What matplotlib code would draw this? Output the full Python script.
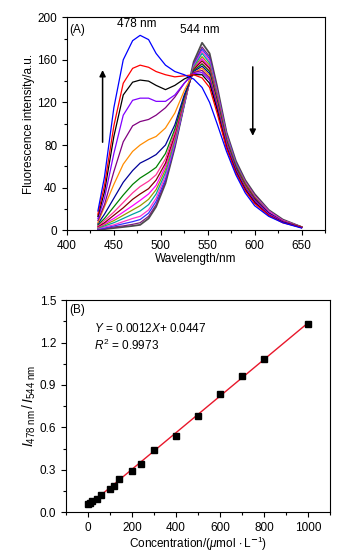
import numpy as np
import matplotlib
matplotlib.use('Agg')
import matplotlib.pyplot as plt
from matplotlib.ticker import MultipleLocator, FormatStrFormatter

plt.rcParams['font.family'] = ['Liberation Sans', 'DejaVu Sans']
plt.rcParams['mathtext.fontset'] = 'custom'
plt.rcParams['mathtext.rm'] = 'Liberation Sans'
plt.rcParams['mathtext.it'] = 'Liberation Sans:italic'
plt.rcParams['font.size'] = 8.5

# ---- panel A: emission spectra ----
wl = [433, 440, 450, 460, 470, 478, 487, 495, 505, 515, 525, 535, 544,
      552, 560, 570, 580, 590, 600, 615, 630, 650]

spec_0 = [1, 1, 2, 3, 4, 5, 11, 22, 44, 78, 118, 158, 176, 166, 135, 92, 65, 47, 34, 19, 10, 3]
spec_10 = [1, 1.5, 3, 4, 5.5, 7, 13, 24, 46, 79, 118, 156, 172, 163, 133, 91, 64, 46, 33, 18, 9.5, 3]
spec_20 = [1.2, 2, 4, 6, 8, 10, 16, 27, 48, 80, 118, 155, 170, 161, 131, 90, 63, 45, 32, 18, 9, 3]
spec_40 = [1.5, 3, 5, 8, 11, 13, 19, 30, 51, 82, 119, 154, 168, 159, 130, 89, 62, 45, 32, 18, 9, 3]
spec_60 = [2, 4, 7, 11, 15, 18, 24, 34, 54, 84, 120, 153, 166, 157, 128, 88, 62, 44, 31, 17, 9, 3]
spec_100 = [2.5, 5, 9, 14, 19, 23, 29, 38, 57, 86, 121, 152, 163, 155, 127, 87, 61, 44, 31, 17, 9, 3]
spec_120 = [3, 6, 11, 17, 23, 28, 34, 42, 60, 88, 122, 151, 161, 153, 125, 86, 60, 43, 30, 17, 9, 3]
spec_140 = [3.5, 7, 14, 21, 29, 34, 39, 47, 63, 90, 123, 151, 159, 152, 124, 85, 60, 43, 30, 16, 8.5, 3]
spec_200 = [4, 9, 17, 26, 35, 41, 46, 52, 67, 92, 124, 150, 157, 150, 123, 84, 59, 42, 29, 16, 8.5, 3]
spec_240 = [5, 11, 22, 33, 43, 49, 54, 59, 72, 95, 125, 150, 156, 149, 122, 84, 59, 42, 29, 16, 8, 3]
spec_300 = [6, 15, 30, 45, 56, 63, 67, 71, 80, 99, 127, 149, 154, 147, 121, 83, 58, 41, 29, 16, 8, 3]
spec_400 = [7, 22, 43, 62, 74, 80, 85, 88, 96, 110, 131, 148, 152, 145, 119, 82, 57, 41, 28, 15, 8, 3]
spec_500 = [9, 24, 55, 83, 98, 102, 104, 108, 115, 125, 138, 148, 150, 143, 117, 81, 57, 40, 28, 15, 8, 2.5]
spec_600 = [11, 30, 72, 108, 122, 124, 124, 121, 121, 127, 138, 147, 148, 141, 115, 80, 56, 39, 27, 15, 8, 2.5]
spec_700 = [13, 36, 88, 127, 139, 141, 140, 136, 132, 136, 142, 146, 146, 138, 113, 78, 55, 38, 26, 14, 7.5, 2.5]
spec_800 = [15, 42, 98, 138, 152, 155, 153, 149, 146, 144, 145, 146, 143, 134, 110, 77, 54, 37, 25, 14, 7, 2.5]
spec_1000 = [18, 50, 115, 160, 178, 183, 179, 166, 155, 149, 146, 142, 134, 120, 100, 74, 52, 35, 23, 13, 7, 2]

spectra = [spec_0, spec_10, spec_20, spec_40, spec_60, spec_100, spec_120, spec_140,
           spec_200, spec_240, spec_300, spec_400, spec_500, spec_600, spec_700,
           spec_800, spec_1000]
colors = ['#4d4d4d', '#7a1f7a', '#3333ff', '#ff33cc', '#00a0a0', '#999900', '#ff00ff',
          '#800000', '#ff3399', '#008000', '#000099', '#ff8c00', '#800080', '#8000ff',
          '#000000', '#ff0000', '#0000ff']

# ---- panel B: ratio vs concentration ----
conc = [0, 10, 20, 40, 60, 100, 120, 140, 200, 240, 300, 400, 500, 600, 700, 800, 1000]
ratio = [0.06, 0.065, 0.075, 0.094, 0.122, 0.165, 0.188, 0.233, 0.292, 0.339,
         0.438, 0.539, 0.683, 0.838, 0.965, 1.083, 1.335]


def origin_ticks(ax):
    ax.tick_params(which='both', direction='out', labelsize=8.5)
    ax.tick_params(which='major', length=3.5, width=0.8)
    ax.tick_params(which='minor', length=2, width=0.8)
    for s in ax.spines.values():
        s.set_linewidth(0.8)


fig = plt.figure(figsize=(3.56, 5.56), dpi=100)

ax1 = fig.add_axes([0.188, 0.586, 0.725, 0.383])
for s, c in zip(spectra, colors):
    lw = 1.3 if c == '#4d4d4d' else 0.9
    ax1.plot(wl, s, color=c, lw=lw)
ax1.set_xlim(400, 675)
ax1.set_ylim(0, 200)
ax1.xaxis.set_major_locator(MultipleLocator(50))
ax1.xaxis.set_minor_locator(MultipleLocator(25))
ax1.yaxis.set_major_locator(MultipleLocator(40))
ax1.yaxis.set_minor_locator(MultipleLocator(20))
origin_ticks(ax1)
ax1.set_xlabel('Wavelength/nm', fontsize=8.5, labelpad=1)
ax1.set_ylabel('Fluorescence intensity/a.u.', fontsize=8.5, labelpad=2)
ax1.text(403, 188, '(A)', fontsize=8.5, va='center', ha='left')
ax1.text(474, 194, '478 nm', fontsize=8.5, va='center', ha='center')
ax1.text(542, 188, '544 nm', fontsize=8.5, va='center', ha='center')
ax1.annotate('', xy=(438, 153), xytext=(438, 80),
             arrowprops=dict(arrowstyle='-|>', color='black', lw=1.1, mutation_scale=9))
ax1.annotate('', xy=(598, 86), xytext=(598, 156),
             arrowprops=dict(arrowstyle='-|>', color='black', lw=1.1, mutation_scale=9))

ax2 = fig.add_axes([0.185, 0.079, 0.742, 0.381])
k, b = np.polyfit(conc, ratio, 1)
xfit = np.array([conc[0], conc[-1]])
ax2.plot(xfit, k * xfit + b, color='#e8172b', lw=1.0, zorder=2)
ax2.plot(conc, ratio, 's', color='black', markersize=5, zorder=3)
ax2.set_xlim(-100, 1100)
ax2.set_ylim(0, 1.5)
ax2.xaxis.set_major_locator(MultipleLocator(200))
ax2.xaxis.set_minor_locator(MultipleLocator(100))
ax2.yaxis.set_major_locator(MultipleLocator(0.3))
ax2.yaxis.set_minor_locator(MultipleLocator(0.15))
ax2.yaxis.set_major_formatter(FormatStrFormatter('%.1f'))
origin_ticks(ax2)
ax2.set_xlabel(r'Concentration/($\mu$mol$\,\cdot$L$^{\mathbf{-}1}$)', fontsize=8.5, labelpad=1)
ax2.set_ylabel(r'$I_{\rm 478\ nm}\,/\,I_{\rm 544\ nm}$', fontsize=10, labelpad=1)
ax2.text(-85, 1.43, '(B)', fontsize=8.5, va='center', ha='left')
ax2.text(27, 1.30, r'$Y$ = 0.0012$X$+ 0.0447', fontsize=8.5, va='center', ha='left')
ax2.text(27, 1.18, r'$R^2$ = 0.9973', fontsize=8.5, va='center', ha='left')

fig.savefig('out.png', dpi=100)
